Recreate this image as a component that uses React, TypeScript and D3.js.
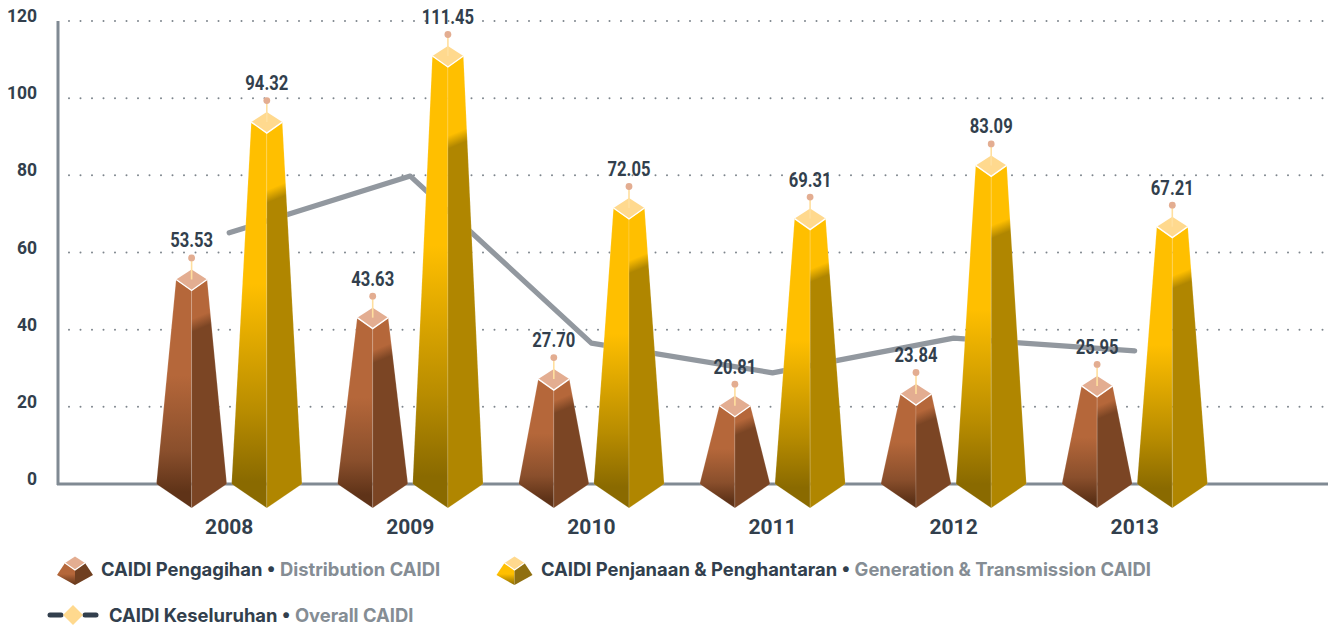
import React from "react";
import * as d3 from "d3";

const years = ["2008", "2009", "2010", "2011", "2012", "2013"];
const distribution = [53.53, 43.63, 27.7, 20.81, 23.84, 25.95];
const generation = [94.32, 111.45, 72.05, 69.31, 83.09, 67.21];
const overall = [65.1, 79.8, 36.5, 28.8, 37.8, 34.5];
const yTicks = [0, 20, 40, 60, 80, 100, 120];

const W = 1333;
const H = 627;
const y = d3.scaleLinear().domain([0, 120]).range([484, 21]);
const x = d3.scalePoint<string>().domain(years).range([229.2, 1134.7]);
const OFFSET = 37.6;
const BASE_HW = 35.2;
const TOP_HW = 15.5;
const DIAMOND_H = 11;
const DARK = "#323f4d";
const GREY = "#858d94";
const AXIS = "#808a93";
const FONT = "Roboto, 'Open Sans', sans-serif";
const LEGEND_FONT = "Inter, Roboto, sans-serif";

type Palette = { id: string; light: string; shade: string; leftMid: string; leftBottom: string; cap: string; iconShade: string };
const brown: Palette = { id: "brown", light: "#b5673a", shade: "#7b4524", leftMid: "#8a4f2c", leftBottom: "#5f3318", cap: "#e3ad91", iconShade: "#6f3f20" };
const gold: Palette = { id: "gold", light: "#ffbf00", shade: "#b08600", leftMid: "#b88c00", leftBottom: "#8a6a00", cap: "#ffd98e", iconShade: "#8f6f10" };

const poly = (pts: number[][]) => pts.map((p) => p.join(",")).join(" ");

function Pyramid({ cx, v, pal, gid }: { cx: number; v: number; pal: Palette; gid: string }) {
  const top = y(v) + 2;
  const base = y(0);
  const bottom = base + 24;
  const h = base - top;
  const bandC = top + 0.18 * h + 10;
  const nx = 0.38;
  const ny = 0.92;
  const rx = cx + 18;
  return (
    <g>
      <defs>
        <linearGradient id={gid} gradientUnits="userSpaceOnUse"
          x1={rx - nx * 6} y1={bandC - 8 - ny * 6} x2={rx + nx * 6} y2={bandC - 8 + ny * 6}>
          <stop offset="0" stopColor={pal.light} />
          <stop offset="1" stopColor={pal.shade} />
        </linearGradient>
      </defs>
      <polygon
        points={poly([[cx - TOP_HW, top], [cx, top + DIAMOND_H], [cx, bottom], [cx - BASE_HW, base]])}
        fill={`url(#left-${pal.id})`} stroke="#fff" strokeOpacity={0.25} strokeWidth={0.6} />
      <polygon
        points={poly([[cx + TOP_HW, top], [cx, top + DIAMOND_H], [cx, bottom], [cx + BASE_HW, base]])}
        fill={`url(#${gid})`} stroke="#fff" strokeOpacity={0.25} strokeWidth={0.6} />
      <polygon
        points={poly([[cx, top - DIAMOND_H + 1], [cx + TOP_HW, top], [cx, top + DIAMOND_H], [cx - TOP_HW, top]])}
        fill={pal.cap} />
      <polyline points={poly([[cx - TOP_HW, top], [cx, top + DIAMOND_H], [cx + TOP_HW, top]])}
        fill="none" stroke="#fff" strokeWidth={1.4} />
      <line x1={cx} x2={cx} y1={top} y2={top - 20} stroke="#ffdf9e" strokeWidth={1.6} />
      <circle cx={cx} cy={top - 21.5} r={3.4} fill="#e3ad91" />
      <text transform={`translate(${cx},${top - 32}) scale(0.81,1)`} textAnchor="middle" fontFamily={FONT}
        fontWeight={700} fontSize={20.5} fill={DARK}>
        {v.toFixed(2)}
      </text>
    </g>
  );
}

function LegendIcon({ cx, pal }: { cx: number; pal: Palette }) {
  const t = 563, b = 585, s = 575;
  return (
    <g>
      <polygon points={poly([[cx - 10, t], [cx, 570], [cx, b], [cx - 18, s]])} fill={`url(#icon-${pal.id})`} />
      <polygon points={poly([[cx + 10, t], [cx, 570], [cx, b], [cx + 18, s]])} fill={pal.iconShade} />
      <polygon points={poly([[cx, 556.5], [cx + 10, t], [cx, 570], [cx - 10, t]])} fill={pal.cap} />
      <polyline points={poly([[cx - 10, t], [cx, 570], [cx + 10, t]])} fill="none" stroke="#fff" strokeWidth={1.1} />
    </g>
  );
}

function LegendText({ tx, ty, a, b }: { tx: number; ty: number; a: string; b: string }) {
  return (
    <text x={tx} y={ty} fontFamily={LEGEND_FONT} fontWeight={700} fontSize={18.4}>
      <tspan fill={DARK}>{a} • </tspan>
      <tspan fill={GREY}>{b}</tspan>
    </text>
  );
}

export default function App() {
  const linePath = d3
    .line<number>()
    .x((_, i) => x(years[i]) as number)
    .y((d) => y(d))(overall) as string;

  return (
    <svg width={W} height={H} viewBox={`0 0 ${W} ${H}`}
      style={{ position: "absolute", left: 0, top: 0, display: "block", background: "#fff" }}>
      <defs>
        {[brown, gold].map((p) => (
          <React.Fragment key={p.id}>
            <linearGradient id={`left-${p.id}`} x1="0" y1="0" x2="0" y2="1">
              <stop offset="0" stopColor={p.light} />
              <stop offset="0.42" stopColor={p.light} />
              <stop offset="0.75" stopColor={p.leftMid} />
              <stop offset="0.93" stopColor={p.leftBottom} />
              <stop offset="1" stopColor={p.leftBottom} />
            </linearGradient>
            <linearGradient id={`icon-${p.id}`} x1="0" y1="0" x2="0" y2="1">
              <stop offset="0" stopColor={p.light} />
              <stop offset="0.5" stopColor={p.light} />
              <stop offset="1" stopColor={p.leftBottom} />
            </linearGradient>
          </React.Fragment>
        ))}
      </defs>

      {yTicks.filter((t) => t > 0).map((t) => (
        <line key={t} x1={69} x2={1327} y1={y(t)} y2={y(t)}
          stroke="#7d858c" strokeWidth={2} strokeLinecap="round" strokeDasharray="0 11.5" />
      ))}
      <line x1={58} x2={58} y1={21} y2={485} stroke={AXIS} strokeWidth={3} />
      <line x1={57} x2={1328} y1={y(0)} y2={y(0)} stroke={AXIS} strokeWidth={3} />

      {yTicks.map((t) => (
        <text key={t} x={37} y={y(t) + 1} textAnchor="end" fontFamily={FONT} fontWeight={700} fontSize={17.5} fill={DARK}>
          {t}
        </text>
      ))}

      <path d={linePath} fill="none" stroke="#92989f" strokeWidth={5.2} strokeLinecap="round" strokeLinejoin="round" />

      {years.map((yr, i) => {
        const c = x(yr) as number;
        return (
          <g key={yr}>
            <Pyramid cx={c - OFFSET} v={distribution[i]} pal={brown} gid={`b-${i}`} />
            <Pyramid cx={c + OFFSET} v={generation[i]} pal={gold} gid={`g-${i}`} />
            <text x={c} y={534} textAnchor="middle" fontFamily={FONT} fontWeight={700} fontSize={21} fill={DARK}>
              {yr}
            </text>
          </g>
        );
      })}

      <LegendIcon cx={75} pal={brown} />
      <LegendText tx={101} ty={576} a="CAIDI Pengagihan" b="Distribution CAIDI" />
      <LegendIcon cx={514.5} pal={gold} />
      <LegendText tx={541} ty={576} a="CAIDI Penjanaan & Penghantaran" b="Generation & Transmission CAIDI" />

      <line x1={50} x2={61} y1={615} y2={615} stroke={DARK} strokeWidth={5} strokeLinecap="round" />
      <line x1={85} x2={96} y1={615} y2={615} stroke={DARK} strokeWidth={5} strokeLinecap="round" />
      <polygon points={poly([[73, 605], [83, 615], [73, 625], [63, 615]])} fill="#ffd98e" />
      <LegendText tx={109} ty={622} a="CAIDI Keseluruhan" b="Overall CAIDI" />
    </svg>
  );
}
